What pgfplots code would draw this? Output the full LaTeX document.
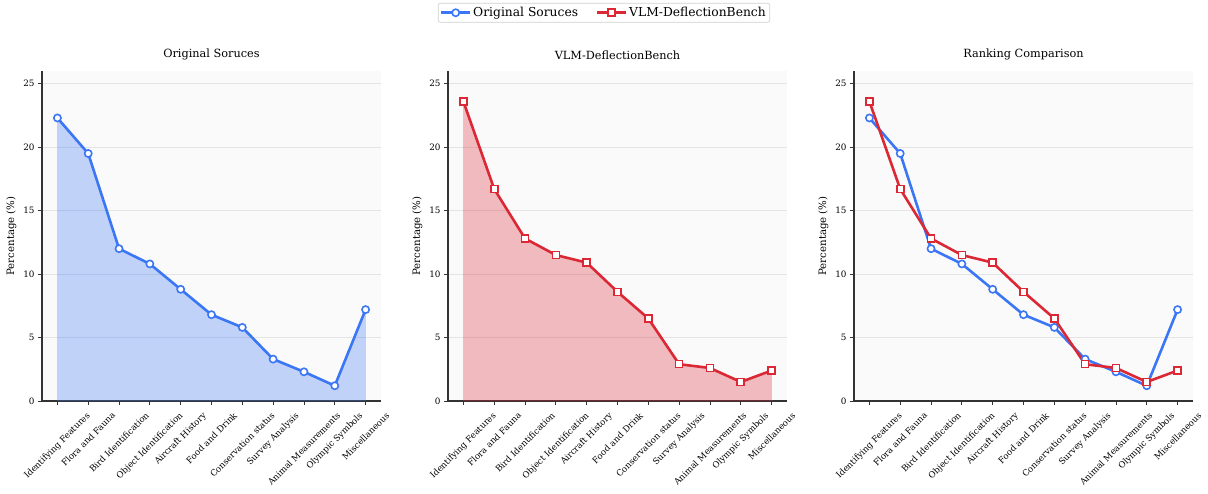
\documentclass[border=0pt]{standalone}
\usepackage{fontspec}
\setmainfont{DejaVu Serif}
\usepackage{graphicx}
\usepackage{pgfplots}
\pgfplotsset{compat=1.18}
\definecolor{cblue}{RGB}{59,118,245}
\definecolor{cred}{RGB}{220,40,52}
\definecolor{bgc}{RGB}{250,250,250}
\definecolor{gridc}{RGB}{228,228,228}
\newcommand{\rl}[1]{\rotatebox{45}{#1}}
\pgfplotsset{
  myax/.style={
    width=339pt, height=330pt, scale only axis,
    xmin=-0.5, xmax=10.5, ymin=0, ymax=26,
    xtick={0,...,10}, ytick={0,5,10,15,20,25},
    xticklabels={\rl{Identifying Features},\rl{Flora and Fauna},\rl{Bird Identification},\rl{Object Identification},\rl{Aircraft History},\rl{Food and Drink},\rl{Conservation status},\rl{Survey Analysis},\rl{Animal Measurements},\rl{Olympic Symbols},\rl{Miscellaneous}},
    x tick label style={anchor=north, font=\fontsize{8.6}{9}\selectfont, inner sep=1.5pt, yshift=-5pt},
    y tick label style={font=\fontsize{8.8}{9}\selectfont},
    /pgf/number format/assume math mode=true,
    axis x line*=bottom, axis y line*=left,
    axis line style={line width=1.1pt, black!80},
    tick align=outside, major tick length=4pt,
    tick style={line width=0.8pt, black!80},
    ymajorgrids, grid style={gridc, line width=0.6pt},
    axis background/.style={fill=bgc},
    ylabel={Percentage (\%)}, ylabel style={font=\fontsize{10.2}{11}\selectfont},
    title style={font=\fontsize{11.3}{12}\selectfont, yshift=1.5pt},
    clip=false,
  },
  bl/.style={cblue, line width=2.6pt, mark=*, mark size=3.6pt, mark options={fill=white, draw=cblue, line width=1.6pt}},
  rd/.style={cred, line width=2.6pt, mark=square*, mark size=3.5pt, mark options={fill=white, draw=cred, line width=1.6pt}},
}
\begin{document}
\begin{tikzpicture}[x=1pt,y=1pt]
\path[use as bounding box] (0,0) rectangle (1208,493);
\begin{axis}[myax, at={(42pt,92pt)}, anchor=south west, title={Original Soruces}]
\addplot[fill=cblue, fill opacity=0.3, draw=cblue, draw opacity=0.2, forget plot] coordinates {(0,22.3)(1,19.5)(2,12.0)(3,10.8)(4,8.8)(5,6.8)(6,5.8)(7,3.3)(8,2.3)(9,1.2)(10,7.2)} \closedcycle;
\addplot[bl] coordinates {(0,22.3)(1,19.5)(2,12.0)(3,10.8)(4,8.8)(5,6.8)(6,5.8)(7,3.3)(8,2.3)(9,1.2)(10,7.2)};
\end{axis}
\begin{axis}[myax, at={(448pt,92pt)}, anchor=south west, title={VLM-DeflectionBench}]
\addplot[fill=cred, fill opacity=0.3, draw=cred, draw opacity=0.2, forget plot] coordinates {(0,23.6)(1,16.7)(2,12.8)(3,11.5)(4,10.9)(5,8.6)(6,6.5)(7,2.9)(8,2.6)(9,1.5)(10,2.4)} \closedcycle;
\addplot[rd] coordinates {(0,23.6)(1,16.7)(2,12.8)(3,11.5)(4,10.9)(5,8.6)(6,6.5)(7,2.9)(8,2.6)(9,1.5)(10,2.4)};
\end{axis}
\begin{axis}[myax, at={(854pt,92pt)}, anchor=south west, title={Ranking Comparison},
  legend columns=2,
  legend style={at={(-0.7375,1.1765)}, anchor=center, font=\fontsize{12.3}{13}\selectfont, draw=black!18, rounded corners=2pt, /tikz/every even column/.append style={column sep=16pt}, inner sep=2pt, line width=0.7pt},
  legend image code/.code={\draw[mark repeat=2,mark phase=2,#1] plot coordinates {(0cm,0cm)(0.5cm,0cm)(1cm,0cm)};}]
\addplot[bl] coordinates {(0,22.3)(1,19.5)(2,12.0)(3,10.8)(4,8.8)(5,6.8)(6,5.8)(7,3.3)(8,2.3)(9,1.2)(10,7.2)};
\addlegendentry{Original Soruces}
\addplot[rd] coordinates {(0,23.6)(1,16.7)(2,12.8)(3,11.5)(4,10.9)(5,8.6)(6,6.5)(7,2.9)(8,2.6)(9,1.5)(10,2.4)};
\addlegendentry{VLM-DeflectionBench}
\end{axis}
\end{tikzpicture}
\end{document}
